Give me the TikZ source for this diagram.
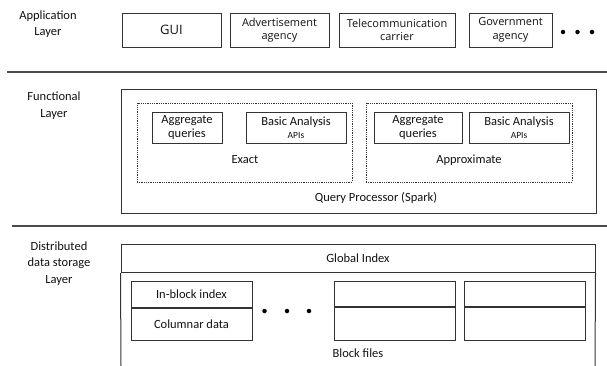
\documentclass[tikz,border=0pt]{standalone}
\usepackage{fontspec}
\setmainfont{Carlito}
\newfontfamily\topfont{Open Sans}
\definecolor{linec}{HTML}{333333}
\definecolor{sepc}{HTML}{4A4A4A}
\definecolor{txtc}{HTML}{111111}
\begin{document}
\begin{tikzpicture}[x=1pt,y=-1pt,
  every node/.style={text=txtc, inner sep=0pt, align=center},
  box/.style={draw=linec, line width=1pt, rectangle},
  topbox/.style={box, minimum height=34pt, font=\topfont\fontsize{11}{13.5}\selectfont},
  fbox/.style={box, minimum height=31pt, font=\fontsize{12.5}{13.5}\selectfont},
  dbox/.style={draw=linec, line width=0.8pt, densely dotted, rectangle, minimum height=79pt},
  lbl/.style={font=\fontsize{12.5}{16.5}\selectfont},
  txt/.style={font=\fontsize{12.5}{14}\selectfont},
  sep/.style={draw=sepc, line width=1.7pt},
  dot/.style={circle, fill=black, minimum size=4.5pt}]
\useasboundingbox (0,0) rectangle (607,365);
% separators
\coordinate (s1a) at (7,72); \coordinate (s1b) at (607,72);
\coordinate (s2a) at (12,226); \coordinate (s2b) at (607,226);
\draw[sep] (s1a) -- (s1b);
\draw[sep] (s2a) -- (s2b);
% layer labels
\node[lbl] (lapp) at (48,24) {Application\\Layer};
\node[lbl] (lfun) at (54,105.5) {Functional\\Layer};
\node[lbl] (lsto) at (59,263.5) {Distributed\\data storage\\Layer};
% application layer
\node[topbox, minimum width=99pt, font=\topfont\fontsize{13}{14}\selectfont] (gui) at (171.5,30) {GUI};
\node[topbox, minimum width=99pt] (ad) at (279.5,30) {Advertisement\\agency};
\node[topbox, minimum width=116pt] (tel) at (397,30) {Telecommunication\\carrier};
\node[topbox, minimum width=83pt] (gov) at (510.5,30) {Government\\agency};
\node[dot] (d1) at (563,32) {};
\node[dot] (d2) at (577.5,32) {};
\node[dot] (d3) at (592,32) {};
% functional layer
\node[box, minimum width=475pt, minimum height=124pt] (qp) at (358.5,151) {};
\node[dbox, minimum width=215pt] (exact) at (244.5,142.5) {};
\node[dbox, minimum width=206pt] (approx) at (469,142.5) {};
\node[fbox, minimum width=70pt] (agg1) at (187,127.5) {Aggregate\\queries};
\node[fbox, minimum width=100pt] (bas1) at (296,127.5) {Basic Analysis\\{\fontsize{9.5}{11}\selectfont APIs}};
\node[fbox, minimum width=88pt] (agg2) at (418,127.5) {Aggregate\\queries};
\node[fbox, minimum width=100pt] (bas2) at (519,127.5) {Basic Analysis\\{\fontsize{9.5}{11}\selectfont APIs}};
\node[txt] (lexact) at (245,160) {Exact};
\node[txt] (lapprox) at (469,160) {Approximate};
\node[txt] (lqp) at (376,198) {Query Processor (Spark)};
% storage layer
\node[box, minimum width=474pt, minimum height=28.5pt, txt] (gidx) at (358,258.25) {Global Index};
\coordinate (ol) at (121,366);
\coordinate (or) at (595,366);
\draw[linec, line width=1pt] (gidx.south west) -- (ol);
\draw[linec, line width=1pt] (gidx.south east) -- (or);
\node[box, minimum width=121pt, minimum height=25.5pt, txt] (ib) at (191.5,294.5) {In-block index};
\node[box, minimum width=121pt, minimum height=32.5pt, anchor=north, txt] (cd) at (ib.south) {Columnar data};
\node[box, minimum width=121pt, minimum height=25pt] (b2t) at (394.5,293.5) {};
\node[box, minimum width=121pt, minimum height=33pt, anchor=north] (b2b) at (b2t.south) {};
\node[box, minimum width=121pt, minimum height=25pt] (b3t) at (524.5,293.5) {};
\node[box, minimum width=121pt, minimum height=33pt, anchor=north] (b3b) at (b3t.south) {};
\node[dot] (m1) at (264.5,311) {};
\node[dot] (m2) at (287,311) {};
\node[dot] (m3) at (309,311) {};
\node[txt] (lbf) at (358,353) {Block files};
\end{tikzpicture}
\end{document}
